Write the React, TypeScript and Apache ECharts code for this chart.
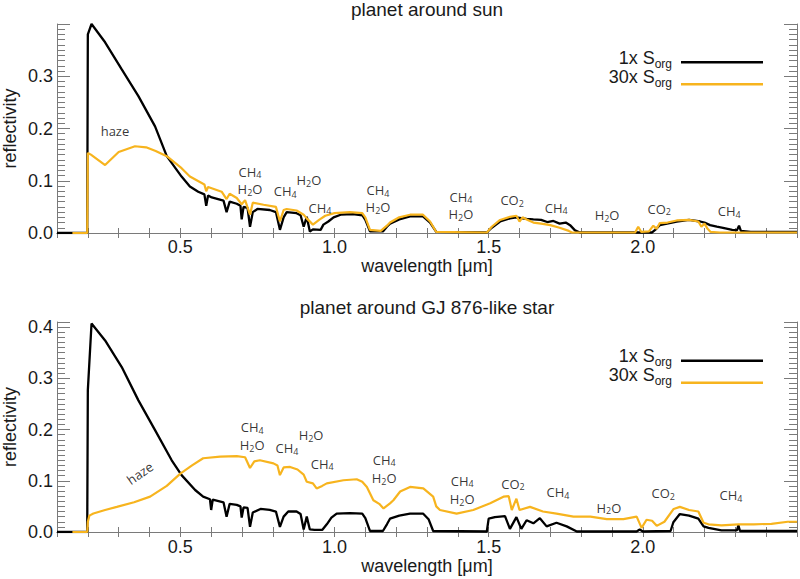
import React, { useEffect, useRef } from "react";
import * as echarts from "echarts";

// ---------- data (wavelength [um], reflectivity) ----------
const sunLow: number[][] = [
  [0.1, 0], [0.198, 0], [0.2, 0.38], [0.212, 0.4], [0.256, 0.365], [0.31, 0.313], [0.364, 0.262],
  [0.418, 0.204], [0.456, 0.147], [0.504, 0.108], [0.531, 0.089], [0.558, 0.079], [0.578, 0.074],
  [0.584, 0.052], [0.59, 0.072], [0.602, 0.068], [0.64, 0.062], [0.65, 0.04], [0.66, 0.06],
  [0.683, 0.056], [0.695, 0.052], [0.699, 0.026], [0.705, 0.05], [0.718, 0.048], [0.726, 0.012],
  [0.735, 0.04], [0.75, 0.046], [0.79, 0.044], [0.81, 0.04], [0.823, 0.006], [0.835, 0.03],
  [0.845, 0.04], [0.877, 0.038], [0.89, 0.034], [0.9, 0.012], [0.91, 0.031], [0.92, 0.003],
  [0.93, 0.007], [0.955, 0.006], [0.964, 0.016], [0.98, 0.022], [0.997, 0.03], [1.02, 0.035],
  [1.06, 0.036], [1.09, 0.034], [1.1, 0.025], [1.115, 0.003], [1.157, 0.003], [1.17, 0.012],
  [1.18, 0.018], [1.21, 0.026], [1.245, 0.032], [1.287, 0.032], [1.31, 0.02], [1.33, 0.002],
  [1.494, 0.001], [1.51, 0.01], [1.537, 0.022], [1.569, 0.028], [1.59, 0.03], [1.61, 0.028],
  [1.623, 0.027], [1.645, 0.026], [1.67, 0.025], [1.69, 0.021], [1.71, 0.023], [1.73, 0.018],
  [1.75, 0.02], [1.764, 0.015], [1.78, 0.005], [1.796, 0.001], [2.03, 0.001], [2.04, 0.006],
  [2.055, 0.015], [2.11, 0.022], [2.15, 0.025], [2.186, 0.022], [2.2, 0.02], [2.218, 0.015],
  [2.24, 0.012], [2.26, 0.01], [2.29, 0.006], [2.305, 0.005], [2.312, 0.014], [2.318, 0.004],
  [2.35, 0.002], [2.5, 0.002],
];
const sunHigh: number[][] = [
  [0.15, 0], [0.198, 0], [0.2, 0.153], [0.21, 0.15], [0.256, 0.13], [0.3, 0.155], [0.353, 0.166],
  [0.389, 0.164], [0.42, 0.157], [0.456, 0.147], [0.504, 0.124], [0.531, 0.108], [0.578, 0.093],
  [0.584, 0.08], [0.59, 0.088], [0.634, 0.079], [0.65, 0.065], [0.66, 0.075], [0.683, 0.067],
  [0.699, 0.055], [0.71, 0.063], [0.726, 0.035], [0.735, 0.058], [0.77, 0.054], [0.81, 0.05],
  [0.823, 0.022], [0.835, 0.044], [0.845, 0.046], [0.877, 0.043], [0.9, 0.035], [0.91, 0.028],
  [0.93, 0.016], [0.95, 0.025], [0.97, 0.033], [1.0, 0.038], [1.05, 0.04], [1.09, 0.038],
  [1.1, 0.03], [1.115, 0.006], [1.15, 0.004], [1.17, 0.014], [1.18, 0.02], [1.21, 0.03],
  [1.245, 0.035], [1.287, 0.035], [1.31, 0.022], [1.33, 0.002], [1.494, 0.001], [1.51, 0.012],
  [1.537, 0.025], [1.569, 0.031], [1.59, 0.033], [1.6, 0.022], [1.61, 0.03], [1.623, 0.026],
  [1.645, 0.02], [1.67, 0.018], [1.7, 0.015], [1.73, 0.01], [1.76, 0.004], [1.77, 0.001],
  [1.975, 0.001], [1.985, 0.012], [1.995, 0.002], [2.02, 0.003], [2.034, 0.014], [2.045, 0.008],
  [2.055, 0.019], [2.08, 0.02], [2.11, 0.024], [2.15, 0.025], [2.18, 0.022], [2.19, 0.012],
  [2.2, 0.018], [2.21, 0.008], [2.22, 0.002], [2.25, 0.001], [2.5, 0.001],
];
const gjLow: number[][] = [
  [0.1, 0], [0.198, 0], [0.2, 0.277], [0.212, 0.407], [0.256, 0.374], [0.31, 0.322], [0.364, 0.257],
  [0.418, 0.199], [0.472, 0.14], [0.504, 0.111], [0.548, 0.082], [0.574, 0.069], [0.596, 0.064],
  [0.6, 0.043], [0.605, 0.063], [0.64, 0.058], [0.65, 0.03], [0.66, 0.055], [0.683, 0.053],
  [0.695, 0.05], [0.699, 0.028], [0.705, 0.048], [0.718, 0.047], [0.726, 0.01], [0.735, 0.038],
  [0.76, 0.045], [0.79, 0.043], [0.81, 0.04], [0.823, 0.01], [0.835, 0.03], [0.85, 0.04],
  [0.877, 0.04], [0.89, 0.035], [0.9, 0.005], [0.91, 0.03], [0.92, 0.005], [0.935, 0.004],
  [0.96, 0.004], [0.975, 0.015], [0.99, 0.028], [1.007, 0.036], [1.05, 0.037], [1.09, 0.036],
  [1.1, 0.027], [1.115, 0.002], [1.157, 0.002], [1.17, 0.015], [1.18, 0.026], [1.21, 0.032],
  [1.245, 0.036], [1.287, 0.036], [1.305, 0.025], [1.32, 0.002], [1.494, 0.001], [1.5, 0.026],
  [1.52, 0.029], [1.553, 0.031], [1.569, 0.006], [1.59, 0.029], [1.606, 0.006], [1.623, 0.023],
  [1.645, 0.017], [1.666, 0.027], [1.688, 0.011], [1.72, 0.018], [1.753, 0.011], [1.786, 0.001],
  [1.98, 0.001], [1.99, 0.005], [2.0, 0.001], [2.09, 0.002], [2.099, 0.019], [2.12, 0.035],
  [2.15, 0.032], [2.18, 0.026], [2.197, 0.011], [2.213, 0.008], [2.255, 0.003], [2.305, 0.003],
  [2.31, 0.013], [2.315, 0.002], [2.5, 0.002],
];
const gjHigh: number[][] = [
  [0.15, 0], [0.198, 0], [0.2, 0.02], [0.205, 0.032], [0.218, 0.036], [0.256, 0.043], [0.294, 0.049],
  [0.35, 0.058], [0.402, 0.069], [0.456, 0.09], [0.5, 0.114], [0.538, 0.13], [0.574, 0.144],
  [0.629, 0.147], [0.683, 0.148], [0.71, 0.146], [0.726, 0.125], [0.74, 0.138], [0.758, 0.14],
  [0.802, 0.134], [0.815, 0.13], [0.823, 0.111], [0.835, 0.126], [0.856, 0.127], [0.88, 0.122],
  [0.9, 0.112], [0.91, 0.098], [0.93, 0.095], [0.942, 0.085], [0.96, 0.09], [0.975, 0.095],
  [1.029, 0.101], [1.072, 0.103], [1.09, 0.098], [1.105, 0.088], [1.126, 0.062], [1.145, 0.055],
  [1.159, 0.046], [1.18, 0.056], [1.191, 0.062], [1.213, 0.079], [1.245, 0.088], [1.288, 0.085],
  [1.32, 0.069], [1.33, 0.05], [1.342, 0.043], [1.396, 0.036], [1.45, 0.043], [1.505, 0.056],
  [1.548, 0.069], [1.565, 0.07], [1.575, 0.043], [1.59, 0.065], [1.6, 0.043], [1.634, 0.049],
  [1.676, 0.04], [1.72, 0.036], [1.775, 0.03], [1.83, 0.03], [1.883, 0.025], [1.937, 0.025],
  [1.98, 0.03], [1.996, 0.008], [2.012, 0.024], [2.03, 0.022], [2.045, 0.012], [2.07, 0.02],
  [2.1, 0.045], [2.12, 0.049], [2.15, 0.043], [2.18, 0.04], [2.197, 0.018], [2.213, 0.015],
  [2.255, 0.013], [2.31, 0.015], [2.36, 0.015], [2.417, 0.016], [2.47, 0.02], [2.5, 0.02],
];

const CH4 = "{a|CH}{s|4}";
const H2O = "{a|H}{s|2}{a|O}";
const CO2 = "{a|CO}{s|2}";

const sunLabels = [
  { x: 0.288, y: 0.196, t: "{a|haze}", r: 0 },
  { x: 0.726, y: 0.117, t: CH4, r: 0 },
  { x: 0.726, y: 0.084, t: H2O, r: 0 },
  { x: 0.84, y: 0.08, t: CH4, r: 0 },
  { x: 0.917, y: 0.101, t: H2O, r: 0 },
  { x: 0.953, y: 0.048, t: CH4, r: 0 },
  { x: 1.141, y: 0.082, t: CH4, r: 0 },
  { x: 1.141, y: 0.049, t: H2O, r: 0 },
  { x: 1.41, y: 0.069, t: CH4, r: 0 },
  { x: 1.41, y: 0.036, t: H2O, r: 0 },
  { x: 1.576, y: 0.063, t: CO2, r: 0 },
  { x: 1.719, y: 0.048, t: CH4, r: 0 },
  { x: 1.884, y: 0.034, t: H2O, r: 0 },
  { x: 2.053, y: 0.046, t: CO2, r: 0 },
  { x: 2.28, y: 0.042, t: CH4, r: 0 },
];
const gjLabels = [
  { x: 0.369, y: 0.115, t: "{a|haze}", r: 35 },
  { x: 0.733, y: 0.205, t: CH4, r: 0 },
  { x: 0.733, y: 0.169, t: H2O, r: 0 },
  { x: 0.846, y: 0.164, t: CH4, r: 0 },
  { x: 0.924, y: 0.189, t: H2O, r: 0 },
  { x: 0.96, y: 0.133, t: CH4, r: 0 },
  { x: 1.161, y: 0.141, t: CH4, r: 0 },
  { x: 1.161, y: 0.105, t: H2O, r: 0 },
  { x: 1.414, y: 0.1, t: CH4, r: 0 },
  { x: 1.414, y: 0.064, t: H2O, r: 0 },
  { x: 1.579, y: 0.094, t: CO2, r: 0 },
  { x: 1.725, y: 0.078, t: CH4, r: 0 },
  { x: 1.89, y: 0.047, t: H2O, r: 0 },
  { x: 2.066, y: 0.076, t: CO2, r: 0 },
  { x: 2.286, y: 0.072, t: CH4, r: 0 },
];

const titles = ["planet around sun", "planet around GJ 876-like star"];
const legendNames = ["1x S", "30x S"];

const BLACK = "#000000";
const ORANGE = "#F7B41E";
const AXIS = "#7a7a7a";
const TEXT = "#1a1a1a";
const SANS = "Liberation Sans, Arial, Helvetica, sans-serif";

export default function App() {
  const ref = useRef<HTMLDivElement>(null);
  useEffect(() => {
    if (!ref.current) return;
    const chart = echarts.init(ref.current, undefined, { renderer: "svg" });

    const grids = [
      { left: 57, right: 3, top: 24, height: 209 },
      { left: 57, right: 3, top: 322, height: 210 },
    ];
    const yMax = [0.4, 0.41];

    const xAxes: any[] = [];
    const yAxes: any[] = [];
    grids.forEach((_, gi) => {
      const labelMargin = gi === 0 ? 5 : 6;
      xAxes.push({
        type: "value", gridIndex: gi, position: "bottom", min: 0.1, max: 2.5, interval: 0.1,
        axisLine: { show: true, lineStyle: { color: AXIS, width: 1 } },
        axisTick: { show: true, inside: true, length: 5, lineStyle: { color: AXIS } },
        splitLine: { show: false },
        axisLabel: {
          show: true, interval: 0, margin: labelMargin, color: TEXT, fontSize: 18, fontFamily: SANS,
          formatter: (v: number) =>
            Math.abs(v * 2 - Math.round(v * 2)) < 1e-6 && v < 2.45 ? v.toFixed(1) : "",
        },
        name: "wavelength [\u03bcm]", nameLocation: "middle", nameGap: gi === 0 ? 19 : 25,
        nameTextStyle: { color: TEXT, fontSize: 18, fontFamily: SANS },
      });
      xAxes.push({
        type: "value", gridIndex: gi, position: "top", min: 0.1, max: 2.5, interval: 0.1,
        axisLine: { show: true, lineStyle: { color: AXIS, width: 1 } },
        axisTick: { show: true, inside: true, length: 5, lineStyle: { color: AXIS } },
        splitLine: { show: false }, axisLabel: { show: false },
      });
      yAxes.push({
        type: "value", gridIndex: gi, position: "left", min: 0, max: yMax[gi], interval: 0.1,
        axisLine: { show: true, lineStyle: { color: AXIS, width: 1 } },
        axisTick: { show: true, inside: true, length: 13, lineStyle: { color: AXIS } },
        minorTick: { show: true, splitNumber: 10, length: 8, lineStyle: { color: AXIS } },
        splitLine: { show: false },
        axisLabel: {
          show: true, margin: 4, color: TEXT, fontSize: 18, fontFamily: SANS,
          formatter: (v: number) => {
            const r = Math.round(v * 10) / 10;
            if (Math.abs(v - r) > 1e-6) return "";
            if (gi === 0 && r >= 0.4) return "";
            return r.toFixed(1);
          },
        },
      });
      yAxes.push({
        type: "value", gridIndex: gi, position: "right", min: 0, max: yMax[gi], interval: 0.1,
        axisLine: { show: true, lineStyle: { color: AXIS, width: 1 } },
        axisTick: { show: true, inside: true, length: 13, lineStyle: { color: AXIS } },
        minorTick: { show: true, splitNumber: 10, length: 8, lineStyle: { color: AXIS } },
        splitLine: { show: false }, axisLabel: { show: false },
      });
    });

    const lineSeries = (data: number[][], gi: number, color: string, w: number) => ({
      type: "line", xAxisIndex: gi * 2, yAxisIndex: gi * 2, data, showSymbol: false, symbol: "none",
      lineStyle: { color, width: w }, silent: true, z: color === ORANGE ? 3 : 2,
    });

    const tok = { fontFamily: "Open Sans, sans-serif", color: "#000", textBorderWidth: 0, textBorderColor: "transparent" };
    const rich = {
      a: { ...tok, fontSize: 13, lineHeight: 15 },
      s: { ...tok, fontSize: 9, lineHeight: 15, padding: [6, 0, 0, 0] },
    };
    const labelSeries = (labels: any[], gi: number) => ({
      type: "scatter", xAxisIndex: gi * 2, yAxisIndex: gi * 2, symbolSize: 0, silent: true, z: 5,
      itemStyle: { color: "transparent" },
      data: labels.map((l) => ({ value: [l.x, l.y], name: l.t, label: { rotate: l.r } })),
      label: {
        show: true, position: "inside", formatter: (p: any) => p.name, rich, align: "center",
        color: "#000", textBorderWidth: 0, textBorderColor: "transparent",
      },
    });

    const legendY = [
      [58, 77, 62.3, 84.3],
      [356, 375, 360.7, 382.7],
    ];
    const graphics: any[] = [];
    const richLeg = {
      m: { fontSize: 18, fontFamily: SANS, fill: TEXT, color: TEXT, lineHeight: 20 },
      o: { fontSize: 12, fontFamily: SANS, fill: TEXT, color: TEXT, lineHeight: 20, padding: [11, 0, 0, 0] },
    };
    [0, 1].forEach((gi) => {
      const [t1, t2, l1, l2] = legendY[gi];
      graphics.push({
        type: "text", x: 427, y: gi === 0 ? 9 : 307,
        style: { text: titles[gi], fontSize: 19, fontFamily: SANS, fill: TEXT, align: "center", verticalAlign: "middle" },
      });
      graphics.push({
        type: "text", x: 10, y: gi === 0 ? 128.5 : 427, rotation: Math.PI / 2,
        style: { text: "reflectivity", fontSize: 18, fontFamily: SANS, fill: TEXT, align: "center", verticalAlign: "middle" },
      });
      graphics.push({
        type: "text", x: 672, y: t1,
        style: { text: `{m|${legendNames[0]}}{o|org}`, rich: richLeg, align: "right", verticalAlign: "middle" },
      });
      graphics.push({
        type: "text", x: 672, y: t2,
        style: { text: `{m|${legendNames[1]}}{o|org}`, rich: richLeg, align: "right", verticalAlign: "middle" },
      });
      graphics.push({ type: "line", shape: { x1: 681, y1: l1, x2: 763, y2: l1 }, style: { stroke: BLACK, lineWidth: 2.5 } });
      graphics.push({ type: "line", shape: { x1: 681, y1: l2, x2: 763, y2: l2 }, style: { stroke: ORANGE, lineWidth: 2.5 } });
    });

    chart.setOption({
      animation: false,
      backgroundColor: "#ffffff",
      grid: grids,
      xAxis: xAxes,
      yAxis: yAxes,
      series: [
        lineSeries(sunLow, 0, BLACK, 2.3),
        lineSeries(sunHigh, 0, ORANGE, 2.2),
        lineSeries(gjLow, 1, BLACK, 2.3),
        lineSeries(gjHigh, 1, ORANGE, 2.2),
        labelSeries(sunLabels, 0),
        labelSeries(gjLabels, 1),
      ],
      graphic: graphics,
    });
    return () => chart.dispose();
  }, []);
  return <div ref={ref} style={{ position: "fixed", left: 0, top: 0, width: 800, height: 579, background: "#fff" }} />;
}
